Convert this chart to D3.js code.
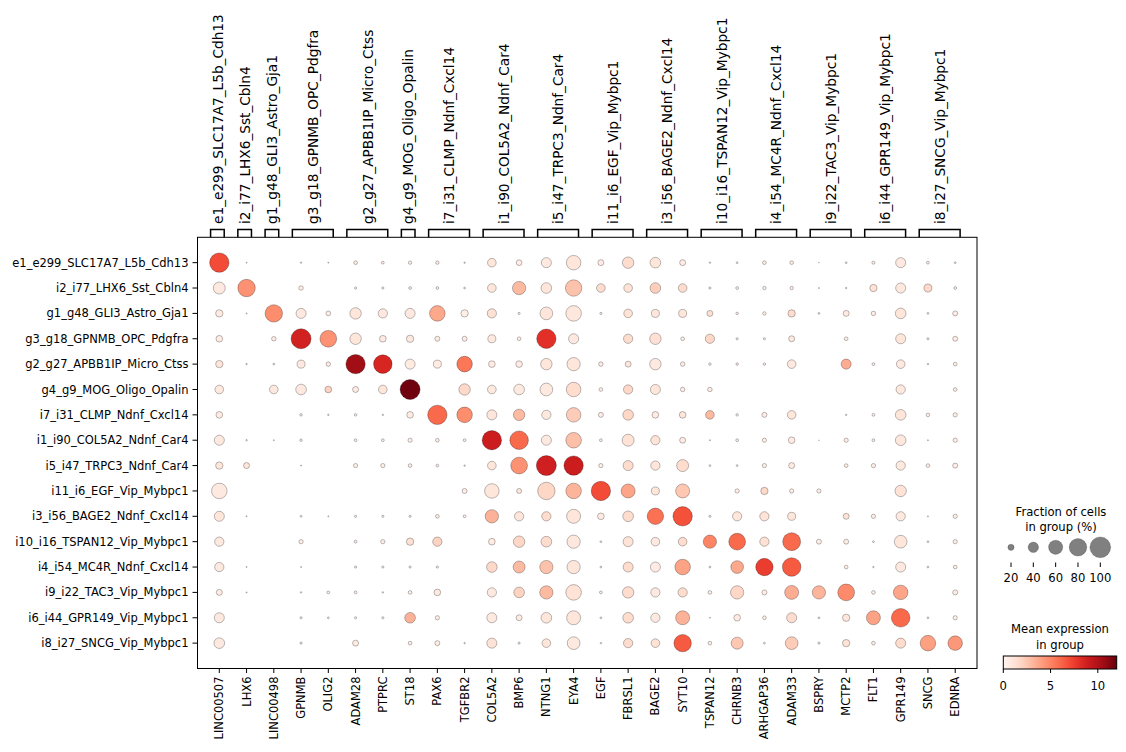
<!DOCTYPE html>
<html>
<head>
<meta charset="utf-8">
<script src="https://cdn.jsdelivr.net/npm/d3@7"></script>
<style>
  body { margin: 0; background: #fff; }
  svg { font-family: "DejaVu Sans", sans-serif; }
</style>
</head>
<body>
<svg id="chart" width="1126" height="752"></svg>
<script>
const groups = [
  "e1_e299_SLC17A7_L5b_Cdh13", "i2_i77_LHX6_Sst_Cbln4", "g1_g48_GLI3_Astro_Gja1",
  "g3_g18_GPNMB_OPC_Pdgfra", "g2_g27_APBB1IP_Micro_Ctss", "g4_g9_MOG_Oligo_Opalin",
  "i7_i31_CLMP_Ndnf_Cxcl14", "i1_i90_COL5A2_Ndnf_Car4", "i5_i47_TRPC3_Ndnf_Car4",
  "i11_i6_EGF_Vip_Mybpc1", "i3_i56_BAGE2_Ndnf_Cxcl14", "i10_i16_TSPAN12_Vip_Mybpc1",
  "i4_i54_MC4R_Ndnf_Cxcl14", "i9_i22_TAC3_Vip_Mybpc1", "i6_i44_GPR149_Vip_Mybpc1",
  "i8_i27_SNCG_Vip_Mybpc1"
];

const genes = [
  "LINC00507", "LHX6", "LINC00498", "GPNMB", "OLIG2", "ADAM28", "PTPRC", "ST18",
  "PAX6", "TGFBR2", "COL5A2", "BMP6", "NTNG1", "EYA4", "EGF", "FBRSL1", "BAGE2",
  "SYT10", "TSPAN12", "CHRNB3", "ARHGAP36", "ADAM33", "BSPRY", "MCTP2", "FLT1",
  "GPR149", "SNCG", "EDNRA"
];

// gene index range [first, last] under each group bracket
const groupSpans = [
  [0, 0], [1, 1], [2, 2], [3, 4], [5, 6], [7, 7], [8, 9], [10, 11],
  [12, 13], [14, 15], [16, 17], [18, 19], [20, 21], [22, 23], [24, 25], [26, 27]
];

// fraction of cells in group (%), one row per group
const fracPct = [
  [91, 2, 0, 3, 2, 10, 7, 9, 9, 3, 31, 18, 38, 62, 19, 45, 41, 19, 3, 4, 10, 10, 1, 4, 8, 38, 7, 4],
  [48, 79, 0, 13, 0, 5, 5, 7, 7, 4, 31, 55, 41, 73, 31, 31, 41, 31, 5, 7, 9, 9, 2, 3, 25, 38, 28, 7],
  [25, 2, 79, 38, 14, 45, 34, 38, 68, 25, 34, 5, 52, 68, 5, 31, 28, 28, 19, 6, 9, 25, 4, 19, 13, 41, 4, 15],
  [22, 0, 13, 95, 75, 45, 22, 25, 15, 15, 28, 10, 91, 38, 0, 34, 45, 10, 34, 5, 5, 19, 0, 10, 0, 38, 5, 15],
  [25, 3, 4, 28, 13, 91, 86, 38, 28, 68, 22, 22, 45, 55, 13, 19, 45, 13, 6, 6, 6, 31, 0, 38, 7, 31, 3, 10],
  [31, 0, 31, 41, 22, 19, 31, 95, 0, 45, 31, 41, 52, 62, 10, 34, 38, 13, 13, 0, 0, 0, 0, 0, 0, 34, 0, 10],
  [22, 0, 0, 6, 3, 6, 3, 22, 91, 68, 38, 45, 34, 62, 15, 41, 22, 22, 31, 6, 15, 31, 0, 3, 7, 41, 10, 12],
  [38, 3, 2, 6, 0, 7, 7, 12, 10, 7, 91, 86, 38, 68, 7, 48, 34, 19, 2, 7, 12, 22, 1, 12, 7, 41, 2, 12],
  [25, 19, 0, 2, 0, 12, 12, 10, 7, 3, 31, 75, 95, 91, 12, 38, 34, 48, 4, 4, 12, 19, 0, 10, 12, 34, 10, 15],
  [68, 0, 0, 0, 0, 0, 0, 0, 0, 15, 62, 15, 79, 68, 91, 59, 28, 59, 0, 12, 25, 12, 12, 0, 0, 45, 0, 0],
  [38, 2, 0, 4, 2, 5, 5, 5, 10, 7, 55, 34, 34, 59, 22, 41, 73, 91, 5, 34, 34, 28, 0, 19, 12, 34, 2, 12],
  [34, 0, 0, 12, 0, 7, 12, 25, 34, 0, 22, 45, 41, 55, 4, 38, 31, 31, 55, 75, 34, 82, 15, 15, 4, 52, 4, 12],
  [34, 2, 0, 2, 0, 5, 5, 5, 5, 0, 41, 48, 55, 55, 4, 38, 38, 68, 4, 52, 79, 86, 0, 10, 3, 38, 4, 10],
  [19, 2, 0, 3, 7, 7, 3, 10, 22, 0, 34, 41, 55, 68, 7, 45, 34, 34, 10, 55, 15, 59, 55, 75, 10, 62, 0, 15],
  [38, 0, 0, 5, 4, 5, 5, 41, 12, 0, 38, 19, 41, 59, 4, 41, 34, 59, 2, 22, 10, 38, 4, 25, 59, 86, 4, 12],
  [41, 0, 0, 5, 0, 19, 0, 10, 15, 3, 38, 5, 31, 52, 3, 34, 31, 79, 10, 48, 4, 52, 5, 25, 10, 38, 68, 62]
];

// mean expression in group
const meanExpr = [
  [7.0, 0.3, 0, 0.3, 0.3, 0.5, 0.5, 0.5, 0.5, 0.3, 1.0, 0.6, 0.8, 1.0, 0.6, 1.5, 1.0, 0.6, 0.3, 0.3, 0.5, 0.5, 0.2, 0.3, 0.4, 0.8, 0.4, 0.3],
  [0.8, 4.5, 0, 0.5, 0, 0.4, 0.4, 0.5, 0.5, 0.3, 1.0, 3.0, 1.0, 2.7, 1.5, 1.2, 2.2, 1.5, 0.4, 0.4, 0.5, 0.5, 0.2, 0.3, 1.2, 0.8, 1.7, 0.5],
  [0.7, 0.3, 4.7, 0.8, 0.6, 1.0, 0.8, 0.8, 3.7, 0.5, 1.3, 0.4, 1.0, 0.9, 0.4, 1.2, 1.0, 1.0, 1.3, 0.4, 0.5, 1.5, 0.3, 0.7, 0.6, 1.0, 0.3, 0.6],
  [0.7, 0, 0.6, 8.7, 4.5, 1.0, 0.7, 0.8, 0.6, 0.6, 0.8, 0.5, 8.0, 0.8, 0, 1.5, 1.3, 0.5, 1.8, 0.4, 0.4, 0.8, 0, 0.5, 0, 1.0, 0.4, 0.6],
  [1.0, 0.3, 0.3, 0.8, 0.6, 10.5, 8.5, 0.7, 0.7, 5.5, 0.7, 0.7, 1.0, 1.0, 0.6, 1.0, 0.8, 0.6, 0.4, 0.4, 0.4, 0.8, 0, 3.5, 0.4, 0.8, 0.3, 0.5],
  [0.8, 0, 0.8, 0.8, 2.0, 0.7, 1.0, 11.8, 0, 1.7, 0.8, 0.8, 0.8, 1.5, 0.5, 1.7, 1.0, 0.6, 0.6, 0, 0, 0, 0, 0, 0, 0.8, 0, 0.5],
  [0.7, 0, 0, 0.4, 0.3, 0.4, 0.3, 0.7, 6.0, 4.7, 1.0, 3.0, 0.8, 2.3, 0.6, 1.8, 0.7, 1.0, 3.0, 0.4, 0.6, 1.0, 0, 0.3, 0.4, 1.0, 0.5, 0.5],
  [0.8, 0.3, 0.3, 0.4, 0, 0.4, 0.4, 0.5, 0.5, 0.4, 9.0, 6.0, 0.8, 2.8, 0.4, 1.2, 1.2, 0.7, 0.3, 0.4, 0.5, 0.7, 0.2, 0.5, 0.4, 0.9, 0.3, 0.5],
  [1.0, 1.0, 0, 0.3, 0, 0.5, 0.5, 0.5, 0.4, 0.3, 1.0, 4.5, 8.8, 9.0, 0.5, 1.5, 1.0, 1.5, 0.3, 0.3, 0.5, 0.7, 0, 0.5, 0.5, 0.8, 0.5, 0.6],
  [0.8, 0, 0, 0, 0, 0, 0, 0, 0, 0.6, 1.0, 1.0, 1.8, 3.2, 7.0, 3.8, 1.0, 2.5, 0, 0.5, 1.7, 0.5, 0.5, 0, 0, 1.2, 0, 0],
  [1.0, 0.3, 0, 0.3, 0.3, 0.4, 0.4, 0.4, 0.5, 0.4, 3.3, 1.0, 1.5, 1.0, 0.7, 1.5, 5.7, 6.8, 0.4, 1.0, 1.2, 1.0, 0, 1.2, 0.5, 0.8, 0.3, 0.5],
  [0.8, 0, 0, 0.5, 0, 0.4, 0.5, 1.3, 2.0, 0, 0.7, 1.8, 1.5, 0.9, 0.3, 1.2, 0.8, 1.5, 5.0, 6.0, 1.3, 6.0, 0.6, 0.6, 0.3, 1.0, 0.3, 0.5],
  [0.8, 0.3, 0, 0.3, 0, 0.4, 0.4, 0.4, 0.4, 0, 1.7, 3.0, 2.7, 1.0, 0.3, 1.5, 0.7, 3.9, 0.3, 3.7, 7.5, 6.5, 0, 0.5, 0.3, 0.8, 0.3, 0.5],
  [0.7, 0.3, 0, 0.3, 0.4, 0.4, 0.3, 0.5, 0.8, 0, 0.8, 2.0, 3.0, 1.2, 0.4, 1.5, 0.8, 1.5, 0.5, 1.8, 0.6, 3.5, 3.2, 4.8, 0.5, 3.8, 0, 0.6],
  [0.8, 0, 0, 0.4, 0.3, 0.4, 0.4, 3.3, 0.5, 0, 0.8, 0.7, 1.0, 1.0, 0.3, 1.5, 0.8, 3.3, 0.3, 0.7, 0.5, 1.5, 0.3, 0.9, 3.9, 6.0, 0.3, 0.5],
  [0.8, 0, 0, 0.4, 0, 0.7, 0, 0.5, 0.6, 0.3, 1.2, 0.4, 1.0, 0.8, 0.3, 1.5, 1.2, 6.5, 0.5, 2.5, 0.3, 2.3, 0.4, 1.2, 0.5, 1.5, 4.0, 4.3]
];

const sizeLegendPct = [20, 40, 60, 80, 100];
const colorTicks = [0, 5, 10];
const colorMax = 12;

const svg = d3.select("#chart");

const plot = { left: 197.5, right: 977, top: 237.3, bottom: 668.5 };

// same padding as the scanpy dotplot: dots sit at i + 0.5
const x = d3.scaleLinear().domain([-0.3, genes.length + 0.3]).range([plot.left, plot.right]);
const y = d3.scaleLinear().domain([-0.5, groups.length + 0.5]).range([plot.top, plot.bottom]);
const radius = d3.scalePow().exponent(0.75).domain([0, 100]).range([0, 10.4]);
const color = d3.scaleSequential(d3.interpolateReds).domain([0, colorMax]);

// flatten the matrices into dot records
const dots = [];
groups.forEach((g, r) => {
  genes.forEach((gene, c) => {
    if (fracPct[r][c] > 0) {
      dots.push({ row: r, col: c, frac: fracPct[r][c], expr: meanExpr[r][c] });
    }
  });
});

svg.append("g")
  .selectAll("circle")
  .data(dots)
  .enter()
  .append("circle")
  .attr("cx", d => x(d.col + 0.5))
  .attr("cy", d => y(d.row + 0.5))
  .attr("r", d => radius(d.frac))
  .attr("fill", d => color(d.expr))
  .attr("stroke", "rgba(0,0,0,0.45)")
  .attr("stroke-width", 0.6);

// frame
svg.append("rect")
  .attr("x", plot.left)
  .attr("y", plot.top)
  .attr("width", plot.right - plot.left)
  .attr("height", plot.bottom - plot.top)
  .attr("fill", "none")
  .attr("stroke", "#000")
  .attr("stroke-width", 1);

// y axis: group names
const yAxis = svg.append("g");
yAxis.selectAll("line")
  .data(groups)
  .enter()
  .append("line")
  .attr("x1", plot.left - 5)
  .attr("x2", plot.left)
  .attr("y1", (d, i) => y(i + 0.5))
  .attr("y2", (d, i) => y(i + 0.5))
  .attr("stroke", "#000")
  .attr("stroke-width", 1);
yAxis.selectAll("text")
  .data(groups)
  .enter()
  .append("text")
  .attr("x", plot.left - 9)
  .attr("y", (d, i) => y(i + 0.5))
  .attr("dy", "0.35em")
  .attr("text-anchor", "end")
  .style("font-size", "11.5px")
  .text(d => d);

// x axis: gene names
const xAxis = svg.append("g");
xAxis.selectAll("line")
  .data(genes)
  .enter()
  .append("line")
  .attr("x1", (d, i) => x(i + 0.5))
  .attr("x2", (d, i) => x(i + 0.5))
  .attr("y1", plot.bottom)
  .attr("y2", plot.bottom + 4.5)
  .attr("stroke", "#000")
  .attr("stroke-width", 1);
xAxis.selectAll("text")
  .data(genes)
  .enter()
  .append("text")
  .attr("transform", (d, i) => `translate(${x(i + 0.5)},${plot.bottom + 8}) rotate(-90)`)
  .attr("dy", "0.35em")
  .attr("text-anchor", "end")
  .style("font-size", "11.5px")
  .text(d => d);

// group brackets above the plot
const brackets = svg.append("g");
brackets.selectAll("path")
  .data(groupSpans)
  .enter()
  .append("path")
  .attr("d", d => {
    const l = x(d[0] + 0.18), r = x(d[1] + 0.68);
    return `M${l},${plot.top} V229.5 H${r} V${plot.top}`;
  })
  .attr("fill", "none")
  .attr("stroke", "#000")
  .attr("stroke-width", 1.5);
brackets.selectAll("text")
  .data(groupSpans)
  .enter()
  .append("text")
  .attr("transform", (d, i) => `translate(${(x(d[0] + 0.18) + x(d[1] + 0.68)) / 2 + 0.5},224) rotate(-90)`)
  .attr("dy", "0.35em")
  .attr("text-anchor", "start")
  .style("font-size", "13.7px")
  .text((d, i) => groups[i]);

// size legend
const sizeLegend = svg.append("g");
const sizeX = d3.scalePoint().domain(sizeLegendPct).range([1011, 1100.3]);
sizeLegend.append("text")
  .attr("x", 1061)
  .attr("y", 511.7)
  .attr("dy", "0.35em")
  .attr("text-anchor", "middle")
  .style("font-size", "11.6px")
  .text("Fraction of cells");
sizeLegend.append("text")
  .attr("x", 1061)
  .attr("y", 527.3)
  .attr("dy", "0.35em")
  .attr("text-anchor", "middle")
  .style("font-size", "11.6px")
  .text("in group (%)");
sizeLegend.selectAll("circle")
  .data(sizeLegendPct)
  .enter()
  .append("circle")
  .attr("cx", d => sizeX(d))
  .attr("cy", 547.3)
  .attr("r", d => radius(d))
  .attr("fill", "#808080")
  .attr("stroke", "rgba(0,0,0,0.3)")
  .attr("stroke-width", 0.6);
sizeLegend.selectAll("line")
  .data(sizeLegendPct)
  .enter()
  .append("line")
  .attr("x1", d => sizeX(d))
  .attr("x2", d => sizeX(d))
  .attr("y1", 562.5)
  .attr("y2", 567)
  .attr("stroke", "#000")
  .attr("stroke-width", 1);
sizeLegend.selectAll(".tick-label")
  .data(sizeLegendPct)
  .enter()
  .append("text")
  .attr("class", "tick-label")
  .attr("x", d => sizeX(d))
  .attr("y", 577.5)
  .attr("dy", "0.35em")
  .attr("text-anchor", "middle")
  .style("font-size", "11.6px")
  .text(d => d);

// colorbar
const cbar = { x0: 1003.3, x1: 1116.7, y0: 656, y1: 669 };
const cx = d3.scaleLinear().domain([0, colorMax]).range([cbar.x0, cbar.x1]);

const grad = svg.append("defs")
  .append("linearGradient")
  .attr("id", "redsGrad")
  .attr("x1", "0%").attr("x2", "100%")
  .attr("y1", "0%").attr("y2", "0%");
d3.range(0, 1.0001, 0.05).forEach(t => {
  grad.append("stop")
    .attr("offset", `${t * 100}%`)
    .attr("stop-color", d3.interpolateReds(t));
});

const colorLegend = svg.append("g");
colorLegend.append("text")
  .attr("x", 1060)
  .attr("y", 629)
  .attr("dy", "0.35em")
  .attr("text-anchor", "middle")
  .style("font-size", "11.6px")
  .text("Mean expression");
colorLegend.append("text")
  .attr("x", 1060)
  .attr("y", 645)
  .attr("dy", "0.35em")
  .attr("text-anchor", "middle")
  .style("font-size", "11.6px")
  .text("in group");
colorLegend.append("rect")
  .attr("x", cbar.x0)
  .attr("y", cbar.y0)
  .attr("width", cbar.x1 - cbar.x0)
  .attr("height", cbar.y1 - cbar.y0)
  .attr("fill", "url(#redsGrad)")
  .attr("stroke", "#000")
  .attr("stroke-width", 1);
colorLegend.selectAll("line")
  .data(colorTicks)
  .enter()
  .append("line")
  .attr("x1", d => cx(d))
  .attr("x2", d => cx(d))
  .attr("y1", cbar.y1)
  .attr("y2", cbar.y1 + 4)
  .attr("stroke", "#000")
  .attr("stroke-width", 1);
colorLegend.selectAll("text.tick")
  .data(colorTicks)
  .enter()
  .append("text")
  .attr("class", "tick")
  .attr("x", d => cx(d))
  .attr("y", 686)
  .attr("dy", "0.35em")
  .attr("text-anchor", "middle")
  .style("font-size", "11.6px")
  .text(d => d);
</script>
</body>
</html>
